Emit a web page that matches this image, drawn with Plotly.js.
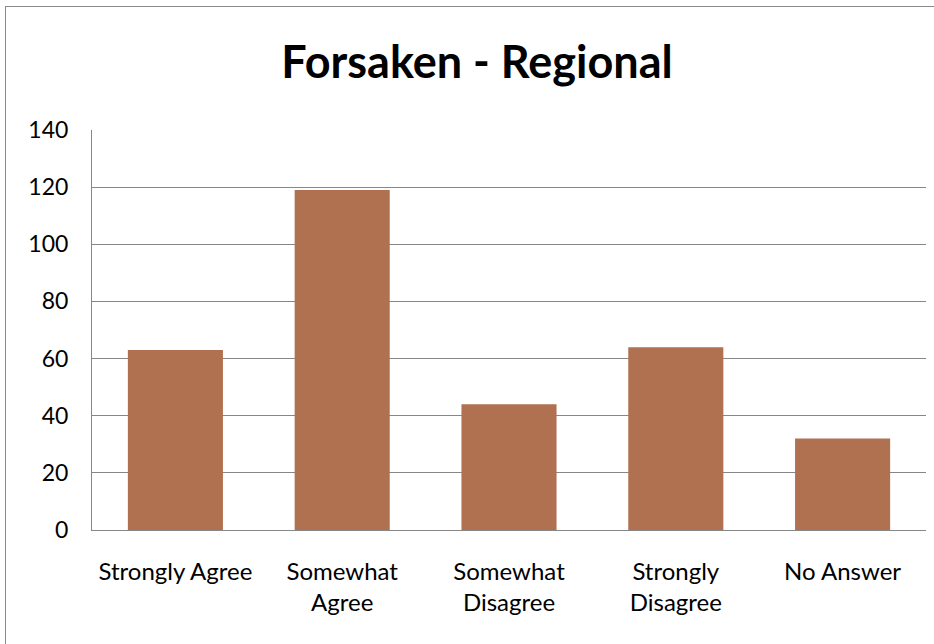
<!DOCTYPE html>
<html>
<head>
<meta charset="utf-8">
<script src="https://cdn.plot.ly/plotly-3.0.1.min.js"></script>
<style>
  html, body { margin: 0; padding: 0; background: #ffffff; }
  #wrap { position: relative; width: 934px; height: 644px; overflow: hidden; }
  #chart { width: 934px; height: 644px; }
  /* chart-area frame: only top and left edges fall inside the page */
  #frame {
    position: absolute; left: 5px; top: 6px; width: 1200px; height: 1200px;
    border-top: 1.5px solid #8a8a8a; border-left: 1.5px solid #8a8a8a;
    pointer-events: none;
  }
</style>
</head>
<body>
<div id="wrap">
  <div id="chart"></div>
  <div id="frame"></div>
</div>
<script>
// Survey responses for the "Forsaken - Regional" question
const categories = ['Strongly Agree', 'Somewhat Agree', 'Somewhat Disagree', 'Strongly Disagree', 'No Answer'];
const tickLabels = ['Strongly Agree', 'Somewhat<br>Agree', 'Somewhat<br>Disagree', 'Strongly<br>Disagree', 'No Answer'];
const counts = [63, 119, 44, 64, 32];
const yTicks = [0, 20, 40, 60, 80, 100, 120, 140];

const FONT = 'Lato, "Open Sans", sans-serif';
const GRID = '#878787';

const trace = {
  type: 'bar',
  x: categories,
  y: counts,
  marker: { color: '#AF7150', line: { width: 0 } },
  hoverinfo: 'x+y'
};

const layout = {
  width: 934,
  height: 644,
  margin: { l: 92, r: 8, t: 130, b: 114 },
  paper_bgcolor: '#ffffff',
  plot_bgcolor: '#ffffff',
  bargap: 0.43,
  showlegend: false,
  font: { family: FONT, color: '#000000' },
  title: {
    text: '<b>Forsaken - Regional</b>',
    font: { family: FONT, size: 45, color: '#000000' },
    xref: 'container', x: 477 / 934, xanchor: 'center',
    yref: 'container', y: 1 - 62 / 644, yanchor: 'middle'
  },
  xaxis: {
    type: 'category',
    tickmode: 'array',
    tickvals: categories,
    ticktext: tickLabels,
    tickfont: { family: FONT, size: 24, color: '#000000' },
    ticks: '',
    ticklabelstandoff: 20,
    showline: true, linecolor: GRID, linewidth: 1,
    showgrid: false,
    zeroline: false,
    fixedrange: true
  },
  yaxis: {
    range: [0, 140],
    tickmode: 'array',
    tickvals: yTicks,
    tickfont: { family: FONT, size: 23, color: '#000000' },
    ticks: '',
    ticklabelstandoff: 18,
    showline: true, linecolor: GRID, linewidth: 1,
    showgrid: true, gridcolor: GRID, gridwidth: 1,
    zeroline: false,
    fixedrange: true
  }
};

Plotly.newPlot('chart', [trace], layout, { displayModeBar: false, staticPlot: true });
</script>
</body>
</html>
